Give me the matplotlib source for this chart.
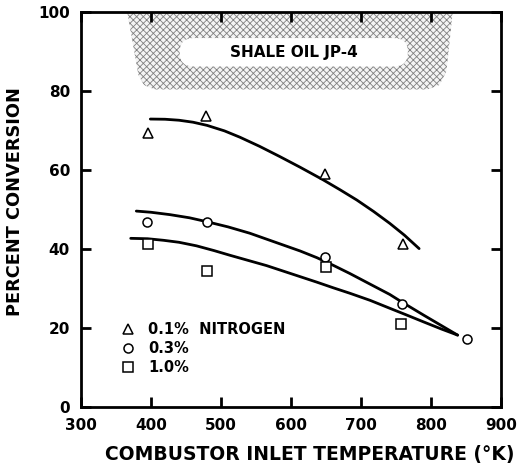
import matplotlib.pyplot as plt
from matplotlib.patches import Polygon, FancyBboxPatch

plt.rcParams['font.family'] = ['DejaVu Sans']
plt.rcParams['font.weight'] = 'bold'
plt.rcParams['hatch.linewidth'] = 0.6

# measured points
temps_01 = [396, 479, 648, 760]
conv_01 = [69.4, 73.7, 58.9, 41.2]
temps_03 = [394, 480, 649, 759, 851]
conv_03 = [46.8, 46.9, 37.9, 26.1, 17.1]
temps_10 = [396, 480, 650, 757]
conv_10 = [41.3, 34.5, 35.5, 20.9]

# hand-drawn curves
curve_01_x = [399, 420, 440, 460, 480, 505, 527, 555, 584, 613, 646, 670, 694, 718, 741, 762, 783]
curve_01_y = [72.9, 72.85, 72.6, 72.1, 71.3, 69.9, 68.3, 66.0, 63.4, 60.7, 57.5, 55.0, 52.4, 49.5, 46.5, 43.5, 40.1]
curve_03_x = [379, 400, 427, 455, 480, 510, 541, 565, 589, 613, 637, 660, 684, 713, 741, 759, 790, 814, 838]
curve_03_y = [49.6, 49.3, 48.7, 47.9, 46.9, 45.6, 44.0, 42.5, 41.0, 39.5, 37.8, 35.9, 33.8, 31.1, 28.5, 26.5, 23.2, 20.7, 18.2]
curve_10_x = [371, 395, 418, 440, 465, 490, 513, 541, 565, 589, 613, 637, 660, 684, 713, 741, 765, 790, 814, 838]
curve_10_y = [42.7, 42.6, 42.2, 41.7, 40.8, 39.6, 38.4, 37.0, 35.8, 34.4, 33.0, 31.6, 30.2, 28.8, 27.0, 25.0, 23.3, 21.5, 19.8, 18.2]

xticks = [300, 400, 500, 600, 700, 800, 900]
yticks = [0, 20, 40, 60, 80, 100]

fig = plt.figure(figsize=(5.2, 4.69), dpi=100)
ax = fig.add_axes([0.1558, 0.1322, 0.8077, 0.8422])
ax.set_xlim(300, 900)
ax.set_ylim(0, 100)

# shaded band with the fuel label
band = Polygon([(366, 100), (831, 100), (822, 85), (812, 81.5), (795, 80.4),
                (405, 80.4), (390, 81.5), (382, 84)],
               closed=True, facecolor='#f4f4f4', edgecolor='#808080', linewidth=0,
               hatch='xxxxx', zorder=0)
ax.add_patch(band)
box = FancyBboxPatch((0.235, 0.862), 0.543, 0.072, transform=ax.transAxes,
                     boxstyle='round,pad=0,rounding_size=0.034',
                     facecolor='white', edgecolor='none', zorder=1)
ax.add_patch(box)
ax.text(604, 89.7, 'SHALE OIL JP-4', ha='center', va='center', fontsize=11,
        fontweight='bold', zorder=2)

lw = 2.0
ax.plot(curve_01_x, curve_01_y, color='black', lw=lw, solid_capstyle='round', zorder=3)
ax.plot(curve_03_x, curve_03_y, color='black', lw=lw, solid_capstyle='round', zorder=3)
ax.plot(curve_10_x, curve_10_y, color='black', lw=lw, solid_capstyle='round', zorder=3)

mk = dict(linestyle='none', markerfacecolor='white', markeredgecolor='black',
          markeredgewidth=1.1, zorder=4)
ax.plot(temps_01, conv_01, marker='^', markersize=7, label='0.1%  NITROGEN', **mk)
ax.plot(temps_03, conv_03, marker='o', markersize=6.5, label='0.3%', **mk)
ax.plot(temps_10, conv_10, marker='s', markersize=6.5, label='1.0%', **mk)

ax.legend(loc='lower left', bbox_to_anchor=(0.098, 0.082), frameon=False,
          handlelength=0.8, handletextpad=1.0, labelspacing=0.25,
          borderpad=0, borderaxespad=0, prop={'weight': 'bold', 'size': 10.5})

ax.set_xticks(xticks)
ax.set_yticks(yticks)
ax.tick_params(direction='in', length=7, width=2, labelsize=11, pad=8,
               top=True, right=True)
for s in ax.spines.values():
    s.set_linewidth(2)

ax.set_xlabel('COMBUSTOR INLET TEMPERATURE (°K)', fontsize=13.5, fontweight='bold')
ax.xaxis.set_label_coords(0.545, -0.095)
ax.set_ylabel('PERCENT CONVERSION', fontsize=12.8, fontweight='bold')
ax.yaxis.set_label_coords(-0.135, 0.52)

fig.savefig('out.png', dpi=100)
